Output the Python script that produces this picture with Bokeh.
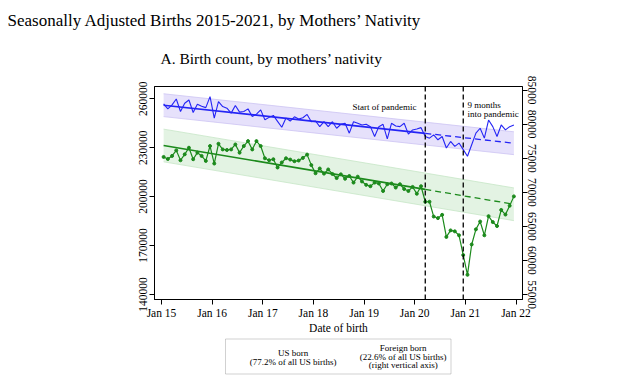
from bokeh.plotting import figure
from bokeh.layouts import column
from bokeh.models import Range1d, LinearAxis, FixedTicker, Span, Label, BoxAnnotation
from bokeh.embed import file_html
from bokeh.resources import INLINE

# ---------------- data ----------------
# monthly observations, Jan 2015 .. Dec 2021 (month index 0..83)
month_index = list(range(84))

us_born = [
    256760, 253740, 256150, 259780, 252150, 257180, 259180, 251500, 256580, 255400,
    254500, 261230, 248100, 258190, 255180, 254160, 251130, 255780, 251730, 252150,
    253740, 249120, 250530, 253130, 247080, 248530, 249740, 246110, 242480, 248100,
    246290, 248900, 247500, 248300, 250340, 245870, 246300, 242850, 245870, 242850,
    245870, 241870, 244290, 244900, 238850, 245870, 244900, 243870, 244290, 242850,
    236800, 242850, 244290, 235400, 244900, 243260, 242850, 244900, 238300, 240850,
    241450, 242240, 236800, 235800, 237820, 234800, 236800, 229760, 233770, 230740,
    232800, 228750, 224700, 231770, 238850, 241870, 235800, 246900, 242850, 236800,
    243870, 240850, 242850, 243870,
]

foreign_born = [
    75200, 74900, 75350, 76160, 74710, 75580, 76550, 74860, 75830, 75350,
    74620, 76800, 74230, 77130, 76300, 76220, 76300, 77030, 75830, 76800,
    77520, 76300, 77520, 76800, 75000, 74710, 74860, 73650, 74380, 75000,
    74810, 74570, 74670, 75060, 75540, 74000, 72800, 73500, 72750, 73360,
    72700, 72100, 72640, 72000, 72400, 71430, 72300, 71600, 71100, 70900,
    71430, 71300, 70200, 71190, 71300, 70700, 71190, 70500, 70200, 70800,
    69800, 70900, 68620, 68620, 66450, 66220, 66700, 63460, 64420, 64280,
    63700, 60800, 57900, 62350, 64570, 65720, 63700, 66510, 65640, 65060,
    67420, 66740, 68040, 69410,
]

# pre-pandemic linear trend: start, pandemic start (Mar 2020), end
trend_months = [0, 62, 83]
us_trend = [256000, 238730, 232700]
us_band_upper = [263000, 239700]
us_band_lower = [249000, 225700]
fb_trend = [76880, 70435, 68250]
fb_band_upper = [79280, 70650]
fb_band_lower = [74480, 65850]

event_months = [62, 71]  # Mar 2020, Dec 2020

x_tick_values = [0, 12, 24, 36, 48, 60, 72, 84]
x_tick_labels = ["Jan 15", "Jan 16", "Jan 17", "Jan 18", "Jan 19", "Jan 20", "Jan 21", "Jan 22"]
left_ticks = [140000, 170000, 200000, 230000, 260000]
right_ticks = [55000, 60000, 65000, 70000, 75000, 80000, 85000]

title_text = "Seasonally Adjusted Births 2015-2021, by Mothers\u2019 Nativity"
subtitle_text = "A. Birth count, by mothers\u2019 nativity"
legend_us = ["US born", "(77.2% of all US births)"]
legend_fb = ["Foreign born", "(22.6% of all US births)", "(right vertical axis)"]

# ---------------- style ----------------
FONT = "Liberation Serif"
BLUE = "#2424f5"
BLUE_BAND = "#e6e1fb"
BLUE_EDGE = "#cdc4f3"
GREEN = "#1c8a1c"
GREEN_BAND = "#e3f3e3"
GREEN_EDGE = "#c6e6c6"
W = 640


def blank_fig(h):
    f = figure(width=W, height=h, x_range=Range1d(0, W), y_range=Range1d(0, h),
               output_backend="svg", toolbar_location=None,
               x_axis_location=None, y_axis_location=None,
               min_border_left=0, min_border_right=0,
               min_border_top=0, min_border_bottom=0)
    f.frame_align = False
    f.outline_line_color = None
    f.grid.visible = False
    return f


def add_text(fig, text, x, y, size, align="left", baseline="alphabetic", units="data"):
    fig.add_layout(Label(x=x, y=y, x_units=units, y_units=units, text=text,
                         text_font=FONT, text_font_size=size, text_color="black",
                         text_align=align, text_baseline=baseline))


# ---------- title strip (page y 0..70) ----------
TOP_H = 70
top = blank_fig(TOP_H)
add_text(top, title_text, 7, TOP_H - 19.5, "17px")
add_text(top, subtitle_text, 160, TOP_H - 57.5, "15.5px")

# ---------- main chart (page y 70..336, frame 86..302) ----------
xs = [m + 0.5 for m in month_index]
tx = [m + 0.5 for m in trend_months]
band_x = [tx[0], tx[2]]

p = figure(width=W, height=266,
           x_range=Range1d(-1.66, 85.54), y_range=Range1d(136975, 267441),
           output_backend="svg", toolbar_location=None,
           min_border_left=154, min_border_right=118,
           min_border_top=16, min_border_bottom=34,
           background_fill_color="white", border_fill_color="white")
p.frame_align = False
p.xgrid.visible = False
p.ygrid.visible = False
p.outline_line_color = "black"
p.outline_line_width = 1
p.outline_line_alpha = 1
p.extra_y_ranges = {"fb": Range1d(54275, 85536)}

p.varea(x=band_x, y1=us_band_lower, y2=us_band_upper, fill_color=BLUE_BAND)
p.line(band_x, us_band_upper, line_color=BLUE_EDGE, line_width=0.8)
p.line(band_x, us_band_lower, line_color=BLUE_EDGE, line_width=0.8)
p.varea(x=band_x, y1=fb_band_lower, y2=fb_band_upper, fill_color=GREEN_BAND, y_range_name="fb")
p.line(band_x, fb_band_upper, line_color=GREEN_EDGE, line_width=0.8, y_range_name="fb")
p.line(band_x, fb_band_lower, line_color=GREEN_EDGE, line_width=0.8, y_range_name="fb")

p.line(tx[:2], us_trend[:2], line_color=BLUE, line_width=1.6)
p.line(tx[1:], us_trend[1:], line_color=BLUE, line_width=1.3, line_dash="6 4")
p.line(tx[:2], fb_trend[:2], line_color=GREEN, line_width=1.6, y_range_name="fb")
p.line(tx[1:], fb_trend[1:], line_color=GREEN, line_width=1.3, line_dash="6 4", y_range_name="fb")

p.line(xs, us_born, line_color=BLUE, line_width=1.1)
p.line(xs, foreign_born, line_color=GREEN, line_width=1.2, y_range_name="fb")
p.scatter(xs, foreign_born, marker="circle", size=3, fill_color=GREEN, line_color=GREEN,
          y_range_name="fb")

for m in event_months:
    p.add_layout(Span(location=m + 0.5, dimension="height", line_color="black",
                      line_dash="5 3", line_width=1.3))


def style_axis(ax, size):
    ax.axis_line_color = "black"
    ax.major_tick_line_color = "black"
    ax.minor_tick_line_color = None
    ax.major_tick_in = 0
    ax.major_tick_out = 5
    ax.major_label_text_font = FONT
    ax.major_label_text_font_size = size
    ax.major_label_text_color = "black"


xa = p.xaxis[0]
style_axis(xa, "11.5px")
xa.ticker = FixedTicker(ticks=x_tick_values)
xa.major_label_overrides = {v: l for v, l in zip(x_tick_values, x_tick_labels)}
xa.major_label_standoff = 2
xa.axis_label = "Date of birth"
xa.axis_label_text_font = FONT
xa.axis_label_text_font_size = "11.5px"
xa.axis_label_text_font_style = "normal"
xa.axis_label_text_color = "black"
xa.axis_label_standoff = 0

ya = p.yaxis[0]
style_axis(ya, "11.5px")
ya.ticker = FixedTicker(ticks=left_ticks)
ya.major_label_overrides = {v: str(v) for v in left_ticks}
ya.major_label_orientation = "vertical"
ya.major_label_standoff = 2

ra = LinearAxis(y_range_name="fb")
style_axis(ra, "11.5px")
ra.ticker = FixedTicker(ticks=right_ticks)
ra.major_label_overrides = {v: str(v) for v in right_ticks}
ra.major_label_orientation = "vertical"
ra.major_label_standoff = 0
p.add_layout(ra, "right")

# event annotations (screen units: from frame left / frame bottom; frame is 216 px tall)
add_text(p, "Start of pandemic", 262, 192.5, "9px", align="right", baseline="middle", units="screen")
add_text(p, "9 months", 313, 194.5, "9px", baseline="middle", units="screen")
add_text(p, "into pandemic", 313, 186, "9px", baseline="middle", units="screen")

# ---------- legend strip (page y 336..388) ----------
LEG_H = 52
leg = blank_fig(LEG_H)
leg.add_layout(BoxAnnotation(left=225, right=450.5, top=LEG_H - 2.5, bottom=LEG_H - 37.5,
                             fill_color="white", fill_alpha=1.0,
                             line_color="#666666", line_width=1))
leg.line([230, 242], [LEG_H - 19.7, LEG_H - 19.7], line_color=BLUE, line_width=1.3)
leg.scatter([352.3], [LEG_H - 19.7], marker="circle", size=3, fill_color=GREEN, line_color=GREEN)
for k, t in enumerate(legend_us):
    add_text(leg, t, 292.7, LEG_H - 16.7 - 9 * k, "9px", align="center", baseline="middle")
for k, t in enumerate(legend_fb):
    add_text(leg, t, 402.7, LEG_H - 11.3 - 8.8 * k, "9px", align="center", baseline="middle")

layout = column(top, p, leg, spacing=0)
open("out.html", "w").write(file_html(layout, INLINE))
